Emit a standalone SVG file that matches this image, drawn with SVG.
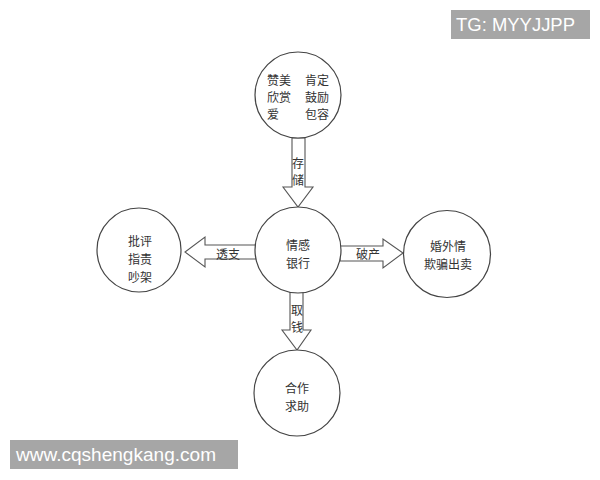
<svg xmlns="http://www.w3.org/2000/svg" width="600" height="480" viewBox="0 0 600 480">
<style>
.node{fill:#fff;stroke:#444;stroke-width:1.2}
.arr{fill:#fff;stroke:#555;stroke-width:1.1}
.t{font-family:"Noto Sans CJK SC","Noto Sans",sans-serif;font-size:12px;fill:#333;text-anchor:middle;dominant-baseline:central}
.wm{fill:#a6a6a6}
.wt{font-family:"Liberation Sans",Arial,sans-serif;font-size:17.5px;fill:#fff}
</style>
<rect width="600" height="480" fill="#fff"/>
<g id="connectors">
<polygon class="arr" points="292,138 305,138 305,187 313,187 298,207 283,187 292,187"/>
<polygon class="arr" points="256,245 205,245 205,237 185,252 205,267 205,259 256,259"/>
<polygon class="arr" points="340,246 383,246 383,239 403,253 383,268 383,261 340,261"/>
<polygon class="arr" points="290,292 303,292 303,330 311,330 297,350 282,330 290,330"/>
<text class="t" x="298" y="162">存</text>
<text class="t" x="298" y="179">储</text>
<text class="t" x="228" y="253">透支</text>
<text class="t" x="368" y="253">破产</text>
<text class="t" x="297" y="309">取</text>
<text class="t" x="297" y="326">钱</text>
</g>
<g id="top">
<circle class="node" cx="298" cy="95" r="43"/>
<text class="t" x="279" y="79">赞美</text>
<text class="t" x="317" y="79">肯定</text>
<text class="t" x="279" y="96">欣赏</text>
<text class="t" x="317" y="96">鼓励</text>
<text class="t" x="273" y="113">爱</text>
<text class="t" x="317" y="113">包容</text>
</g>
<g id="center">
<circle class="node" cx="298" cy="250" r="43"/>
<text class="t" x="298" y="244">情感</text>
<text class="t" x="298" y="262">银行</text>
</g>
<g id="left">
<circle class="node" cx="139" cy="250" r="42"/>
<text class="t" x="140" y="240">批评</text>
<text class="t" x="140" y="258">指责</text>
<text class="t" x="140" y="276">吵架</text>
</g>
<g id="right">
<circle class="node" cx="447" cy="254" r="43.5"/>
<text class="t" x="448" y="245">婚外情</text>
<text class="t" x="448" y="263">欺骗出卖</text>
</g>
<g id="bottom">
<circle class="node" cx="297" cy="393" r="43"/>
<text class="t" x="297" y="387">合作</text>
<text class="t" x="297" y="405">求助</text>
</g>
<g id="watermarks">
<rect class="wm" x="451" y="10" width="139" height="29"/>
<text class="wt" x="456" y="31" textLength="119" lengthAdjust="spacingAndGlyphs">TG: MYYJJPP</text>
<rect class="wm" x="10" y="440" width="228" height="29"/>
<text class="wt" x="16" y="461" textLength="200" lengthAdjust="spacingAndGlyphs">www.cqshengkang.com</text>
</g>
</svg>
